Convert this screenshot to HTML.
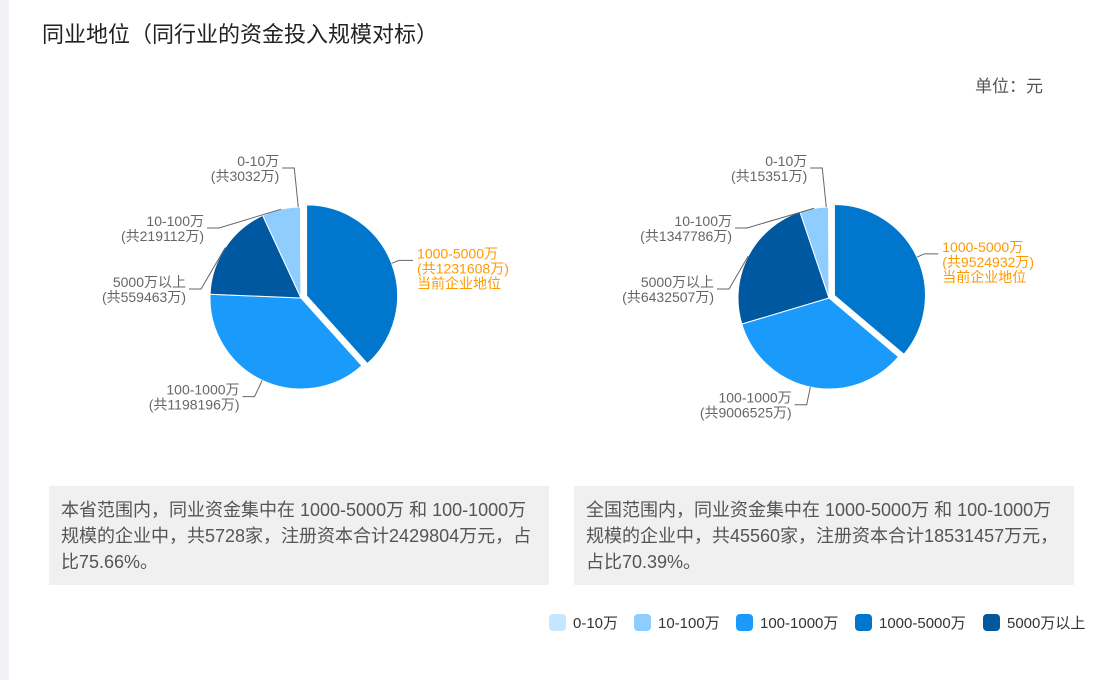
<!DOCTYPE html>
<html><head><meta charset="utf-8"><style>
body{margin:0;width:1098px;height:680px;background:#fff;font-family:"Liberation Sans","Noto Sans CJK SC",sans-serif;position:relative;overflow:hidden}
.side{position:absolute;left:0;top:0;width:9px;height:680px;background:#f0f2f5}
.title{position:absolute;left:42px;top:17px;font-size:22px;color:#222}
.unit{position:absolute;right:55px;top:72px;font-size:17px;color:#555}
.box{position:absolute;top:486px;height:99px;background:#f0f0f0;color:#555;font-size:18px;line-height:26px;padding:11px 12px;box-sizing:border-box;white-space:nowrap}
.legend{position:absolute;top:612px;left:0;width:1098px;height:20px;font-size:15px;color:#333}
.li{position:absolute;top:0;display:flex;align-items:center;white-space:nowrap}
.sw{width:17px;height:17px;border-radius:4px;margin-right:7px}
</style></head><body>
<div class="side"></div>
<div class="title">同业地位（同行业的资金投入规模对标）</div>
<div class="unit">单位：元</div>
<svg id="svg" width="1098" height="680" style="position:absolute;left:0;top:0"></svg>
<div class="box" style="left:49px;width:500px">本省范围内，同业资金集中在 1000-5000万 和 100-1000万<br>规模的企业中，共5728家，注册资本合计2429804万元，占<br>比75.66%。</div>
<div class="box" style="left:574px;width:500px">全国范围内，同业资金集中在 1000-5000万 和 100-1000万<br>规模的企业中，共45560家，注册资本合计18531457万元，<br>占比70.39%。</div>
<div class="legend" id="legend"></div>
<script>
const categories=["1000-5000万","100-1000万","5000万以上","10-100万","0-10万"];
const provinceValues=[1231608,1198196,559463,219112,3032];
const nationalValues=[9524932,9006525,6432507,1347786,15351];
const colors=["#0077cc","#1a9bfc","#0059a0","#8fcdff","#c6e5ff"];
const legendOrder=[4,3,1,0,2];
const NS="http://www.w3.org/2000/svg";
const svg=document.getElementById('svg');
function mk(t,a){const e=document.createElementNS(NS,t);for(const k in a)e.setAttribute(k,a[k]);svg.appendChild(e);return e;}
function pie(cx,cy,r,vals,name){
  const tot=vals.reduce((a,b)=>a+b,0);let a0=-Math.PI/2;
  vals.forEach((v,i)=>{
    const a1=a0+v/tot*2*Math.PI,m=(a0+a1)/2;
    const off=i===0?6:0,ox=cx+off*Math.cos(m),oy=cy+off*Math.sin(m);
    const big=(a1-a0)>Math.PI?1:0;
    const p=mk('path',{d:`M${ox},${oy}L${ox+r*Math.cos(a0)},${oy+r*Math.sin(a0)}A${r},${r} 0 ${big} 1 ${ox+r*Math.cos(a1)},${oy+r*Math.sin(a1)}Z`,fill:colors[i],stroke:'#fff','stroke-width':1});
    
    
    let lm=m;
    if(i===4)lm=-Math.PI/2-0.03;
    const x1=ox+r*Math.cos(lm),y1=oy+r*Math.sin(lm);
    const r2=i===0?r+8:r+18;
    let x2=ox+r2*Math.cos(lm),y2=oy+r2*Math.sin(lm);
    if(i===4){x2=x1-4;y2=cy-130;}
    if(i===3){x2=cx-82;y2=cy-70;}
    if(i===2){x2=cx-100;y2=cy-9;}
    const right=Math.cos(lm)>0&&i!==4;
    const x3=right?x2+14:x2-12;
    const l=mk('polyline',{points:`${x1},${y1} ${x2},${y2} ${x3},${y2}`,fill:'none',stroke:'#666','stroke-width':1});
    
    
    const lines=[categories[i],'(共'+vals[i]+'万)'];if(i===0)lines.push('当前企业地位');
    const t=mk('text',{x:right?x3+4:x3-3,y:y2-2,'text-anchor':right?'start':'end','font-size':14,fill:i===0?'#ff9900':'#666'});
    
    
    lines.forEach((s,k)=>{const ts=document.createElementNS(NS,'tspan');ts.setAttribute('x',t.getAttribute('x'));ts.setAttribute('dy',k===0?0:15);ts.textContent=s;t.appendChild(ts);});
    a0=a1;
  });
}
pie(301,298,91,provinceValues,'province-pie');
pie(829,298,91,nationalValues,'national-pie');
const lg=document.getElementById('legend');
const legendX=[549,634,736,855,983];
legendOrder.forEach((i,k)=>{const d=document.createElement('div');d.className='li';


d.style.left=legendX[k]+'px';
d.innerHTML=`<span class="sw" style="background:${colors[i]}"></span>${categories[i]}`;lg.appendChild(d);});
</script>
</body></html>
